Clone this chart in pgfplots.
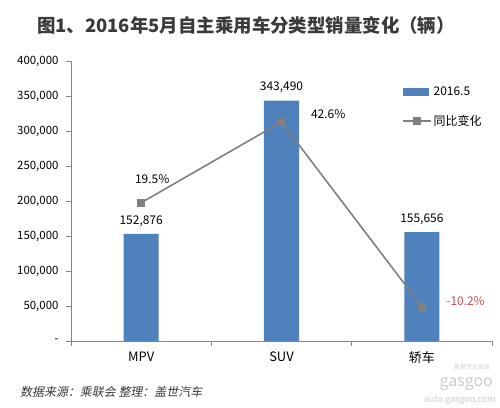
\documentclass[border=0pt]{standalone}
\usepackage{pgfplots}
\pgfplotsset{compat=1.18}
\usepackage{fontspec}
\setmainfont{Noto Sans CJK SC}
\newfontfamily\slfont[FakeSlant=0.2]{Noto Sans CJK SC}
\definecolor{barblue}{HTML}{4F81BD}
\definecolor{linegray}{HTML}{808080}
\definecolor{axisgray}{HTML}{868686}
\definecolor{labred}{HTML}{C0504D}
\definecolor{titlegray}{HTML}{3A3A3A}
\definecolor{wm}{HTML}{C8CDD3}
\pgfplotsset{mylinelegend/.style={legend image code/.code={\draw[mark repeat=2,mark phase=2,##1] plot coordinates {(0bp,0bp) (14bp,0bp) (28bp,0bp)};}}}
\begin{document}
\begin{tikzpicture}[x=1bp,y=1bp]
\path[use as bounding box, fill=white] (0,0) rectangle (500,407);
\begin{axis}[at={(71bp,66bp)}, anchor=south west, scale only axis,
  width=421bp, height=280bp,
  xmin=-0.5, xmax=2.5, ymin=0, ymax=400000,
  axis x line*=bottom, axis y line*=left,
  axis line style={axisgray, line width=0.8bp, -},
  xtick={-0.5,0.5,1.5,2.5}, xticklabels={},
  extra x ticks={0,1,2}, extra x tick labels={MPV,SUV,轿车},
  extra x tick style={major tick length=0pt, tick label style={yshift=-7bp, font=\fontsize{13}{14}\selectfont}},
  scaled y ticks=false,
  ytick={0,50000,100000,150000,200000,250000,300000,350000,400000},
  yticklabels={{-\hspace{7bp}},{50,000},{100,000},{150,000},{200,000},{250,000},{300,000},{350,000},{400,000}},
  tick style={axisgray, line width=0.8bp}, major tick length=5bp, tick align=outside,
  ticklabel style={font=\fontsize{11.5}{12}\selectfont, text=black},
  yticklabel style={xshift=-4bp},
  clip=false,
]
\addplot[ybar, bar width=0.25, fill=barblue, draw=none,
  nodes near coords={\pgfmathprintnumber[fixed, 1000 sep={,}, assume math mode=true]{\pgfplotspointmeta}},
  every node near coord/.append style={font=\fontsize{12}{13}\selectfont, text=black, yshift=4bp}]
  coordinates {(0,152876) (1,343490) (2,155656)};
\end{axis}
\begin{axis}[at={(71bp,66bp)}, anchor=south west, scale only axis,
  width=421bp, height=280bp,
  xmin=-0.5, xmax=2.5, ymin=-20, ymax=60,
  hide axis, clip=false,
  legend style={draw=none, fill=none, at={(0.786,0.915)}, anchor=north west,
    font=\fontsize{12}{13}\selectfont, row sep=14bp, inner sep=0pt},
  legend cell align=left,
]
\addlegendimage{legend image code/.code={\fill[barblue] (0bp,-3.5bp) rectangle (25bp,3.5bp);}}
\addlegendentry{2016.5}
\addplot[linegray, line width=1.6bp, mark=square*, mark size=3.3bp,
  mark options={fill=linegray, draw=linegray, line width=0pt}, mylinelegend]
  coordinates {(0,19.5) (1,42.6) (2,-10.2)};
\addlegendentry{同比变化}
\node[font=\fontsize{12}{13}\selectfont] at (axis cs:0,19.5) [xshift=11bp, yshift=24bp] {19.5\%};
\node[font=\fontsize{12}{13}\selectfont, anchor=west] at (axis cs:1,42.6) [xshift=26bp, yshift=8bp] {42.6\%};
\node[font=\fontsize{12}{13}\selectfont, anchor=west, text=labred] at (axis cs:2,-10.2) [xshift=21bp, yshift=6bp] {-10.2\%};
\end{axis}
\node[font=\fontsize{18.5}{20}\selectfont\bfseries, text=titlegray] at (246,382) {图1、2016年5月自主乘用车分类型销量变化（辆）};
\node[anchor=west, font=\slfont\fontsize{12}{13}\selectfont, text=titlegray, inner sep=0pt] at (20,15) {数据来源：乘联会 整理：盖世汽车};
\node[anchor=east, font=\fontsize{9}{10}\selectfont, text=wm, inner sep=0pt] at (496,7) {auto.gasgoo.com};
\node[anchor=east, font=\fontsize{16}{17}\selectfont, text=wm, inner sep=0pt] at (493,23) {gasgoo};
\node[anchor=east, font=\fontsize{6}{7}\selectfont, text=wm, inner sep=0pt] at (490,40) {盖世汽车资讯};
\end{tikzpicture}
\end{document}
